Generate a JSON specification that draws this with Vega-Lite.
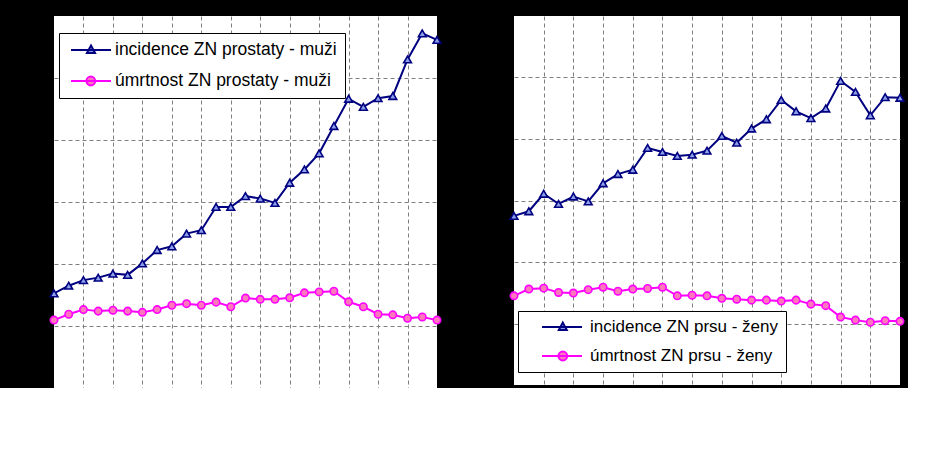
{
  "$schema": "https://vega.github.io/schema/vega-lite/v6.json",
  "background": "black",
  "padding": {"left": 46, "top": 16, "right": 0, "bottom": 0},
  "spacing": 77,
  "bounds": "flush",
  "config": {
    "view": {"fill": "white", "stroke": null},
    "font": "Liberation Sans",
    "axis": {"labels": false, "ticks": false, "domain": false, "title": null, "minExtent": 0, "maxExtent": 0, "grid": true, "gridColor": "#7f7f7f", "gridDash": [4, 3], "gridWidth": 1}
  },
  "datasets": {
    "muzi": [
      {"rok": 1977, "inc": 30.5, "umr": 21.9}, {"rok": 1978, "inc": 33.0, "umr": 23.8},
      {"rok": 1979, "inc": 34.8, "umr": 25.3}, {"rok": 1980, "inc": 35.6, "umr": 24.8},
      {"rok": 1981, "inc": 36.9, "umr": 25.1}, {"rok": 1982, "inc": 36.5, "umr": 24.8},
      {"rok": 1983, "inc": 40.2, "umr": 24.4}, {"rok": 1984, "inc": 44.5, "umr": 25.3},
      {"rok": 1985, "inc": 45.7, "umr": 26.7}, {"rok": 1986, "inc": 49.8, "umr": 27.2},
      {"rok": 1987, "inc": 50.9, "umr": 26.7}, {"rok": 1988, "inc": 58.4, "umr": 27.7},
      {"rok": 1989, "inc": 58.4, "umr": 26.2}, {"rok": 1990, "inc": 61.9, "umr": 29.0},
      {"rok": 1991, "inc": 61.1, "umr": 28.6}, {"rok": 1992, "inc": 59.7, "umr": 28.6},
      {"rok": 1993, "inc": 66.2, "umr": 29.1}, {"rok": 1994, "inc": 70.5, "umr": 30.7},
      {"rok": 1995, "inc": 75.7, "umr": 31.0}, {"rok": 1996, "inc": 84.5, "umr": 31.2},
      {"rok": 1997, "inc": 93.3, "umr": 27.8}, {"rok": 1998, "inc": 90.7, "umr": 26.2},
      {"rok": 1999, "inc": 93.5, "umr": 23.8}, {"rok": 2000, "inc": 94.2, "umr": 23.6},
      {"rok": 2001, "inc": 106.0, "umr": 22.5}, {"rok": 2002, "inc": 114.4, "umr": 22.9},
      {"rok": 2003, "inc": 112.3, "umr": 21.9}
    ],
    "zeny": [
      {"rok": 1977, "inc": 55.0, "umr": 29.0}, {"rok": 1978, "inc": 56.5, "umr": 31.2},
      {"rok": 1979, "inc": 62.2, "umr": 31.5}, {"rok": 1980, "inc": 58.9, "umr": 30.1},
      {"rok": 1981, "inc": 61.3, "umr": 29.9}, {"rok": 1982, "inc": 59.7, "umr": 31.0},
      {"rok": 1983, "inc": 65.6, "umr": 31.8}, {"rok": 1984, "inc": 68.6, "umr": 30.5},
      {"rok": 1985, "inc": 70.0, "umr": 31.2}, {"rok": 1986, "inc": 77.1, "umr": 31.4},
      {"rok": 1987, "inc": 75.8, "umr": 31.8}, {"rok": 1988, "inc": 74.5, "umr": 29.0},
      {"rok": 1989, "inc": 74.9, "umr": 29.2}, {"rok": 1990, "inc": 76.2, "umr": 29.0},
      {"rok": 1991, "inc": 81.0, "umr": 28.2}, {"rok": 1992, "inc": 78.8, "umr": 27.9},
      {"rok": 1993, "inc": 83.4, "umr": 27.6}, {"rok": 1994, "inc": 86.4, "umr": 27.6},
      {"rok": 1995, "inc": 92.7, "umr": 27.3}, {"rok": 1996, "inc": 89.0, "umr": 27.6},
      {"rok": 1997, "inc": 86.8, "umr": 26.3}, {"rok": 1998, "inc": 89.9, "umr": 25.8},
      {"rok": 1999, "inc": 98.9, "umr": 22.1}, {"rok": 2000, "inc": 95.3, "umr": 21.1},
      {"rok": 2001, "inc": 87.7, "umr": 20.4}, {"rok": 2002, "inc": 93.6, "umr": 20.9},
      {"rok": 2003, "inc": 93.4, "umr": 20.7}
    ]
  },
  "hconcat": [
    {
      "width": 383,
      "height": 372,
      "data": {"name": "muzi"},
      "transform": [
        {"fold": ["inc", "umr"], "as": ["key", "hodnota"]},
        {"lookup": "key", "from": {"data": {"values": [
          {"key": "inc", "serie": "incidence ZN prostaty - muži"},
          {"key": "umr", "serie": "úmrtnost ZN prostaty - muži"}
        ]}, "key": "key", "fields": ["serie"]}}
      ],
      "encoding": {
        "x": {"field": "rok", "type": "quantitative", "scale": {"domain": [1977, 2003], "nice": false, "zero": false}, "axis": {"values": [1979, 1981, 1983, 1985, 1987, 1989, 1991, 1993, 1995, 1997, 1999, 2001]}},
        "y": {"field": "hodnota", "type": "quantitative", "scale": {"domain": [0, 120], "nice": false}, "axis": {"values": [20, 40, 60, 80, 100]}},
        "stroke": {
          "field": "serie", "type": "nominal",
          "scale": {"domain": ["incidence ZN prostaty - muži", "úmrtnost ZN prostaty - muži"], "range": ["#000080", "#FF00FF"]},
          "legend": {
            "orient": "none", "legendX": 5, "legendY": 17, "title": null,
            "fillColor": "white", "strokeColor": "black", "padding": 8,
            "labelFontSize": 17.5, "labelFont": "Liberation Sans", "labelColor": "black", "labelLimit": 400,
            "symbolSize": 256, "symbolStrokeWidth": 2, "symbolOpacity": 1, "rowPadding": 13, "labelOffset": 30,
            "encode": {"legend": {"strokeWidth": {"value": 2}}}
          }
        }
      },
      "layer": [
        {"mark": {"type": "line", "strokeWidth": 2, "clip": false}, "encoding": {"detail": {"field": "serie"}}},
        {
          "transform": [{"filter": "datum.key === 'inc'"}],
          "mark": {"type": "point", "shape": "triangle-up", "filled": true, "fill": "#8da0ea", "strokeWidth": 1.6, "opacity": 1, "size": 60, "clip": false}
        },
        {
          "transform": [{"filter": "datum.key === 'umr'"}],
          "mark": {"type": "point", "shape": "circle", "filled": true, "fill": "#ff78bc", "strokeWidth": 1.6, "opacity": 1, "size": 55, "clip": false}
        },
        {
          "transform": [{"filter": "datum.rok < 0"}],
          "mark": {"type": "point", "filled": true, "opacity": 1, "strokeWidth": 1.6},
          "encoding": {
            "shape": {"field": "serie", "type": "nominal", "scale": {"domain": ["incidence ZN prostaty - muži", "úmrtnost ZN prostaty - muži"], "range": ["M-0.625,0H4.375M1.875,-0.55L2.38,0.38H1.37Z", "M2.4,0A0.55,0.55 0 1,1 1.3,0A0.55,0.55 0 1,1 2.4,0ZM-0.625,0H4.375"]}},
            "fill": {"field": "serie", "type": "nominal", "scale": {"domain": ["incidence ZN prostaty - muži", "úmrtnost ZN prostaty - muži"], "range": ["#8da0ea", "#ff78bc"]}}
          }
        }
      ]
    },
    {
      "width": 386,
      "height": 369,
      "data": {"name": "zeny"},
      "transform": [
        {"fold": ["inc", "umr"], "as": ["key", "hodnota"]},
        {"lookup": "key", "from": {"data": {"values": [
          {"key": "inc", "serie": "incidence ZN prsu - ženy"},
          {"key": "umr", "serie": "úmrtnost ZN prsu - ženy"}
        ]}, "key": "key", "fields": ["serie"]}}
      ],
      "encoding": {
        "x": {"field": "rok", "type": "quantitative", "scale": {"domain": [1977, 2003], "nice": false, "zero": false}, "axis": {"values": [1979, 1981, 1983, 1985, 1987, 1989, 1991, 1993, 1995, 1997, 1999, 2001]}},
        "y": {"field": "hodnota", "type": "quantitative", "scale": {"domain": [0, 120], "nice": false}, "axis": {"values": [20, 40, 60, 80, 100]}},
        "stroke": {
          "field": "serie", "type": "nominal",
          "scale": {"domain": ["incidence ZN prsu - ženy", "úmrtnost ZN prsu - ženy"], "range": ["#000080", "#FF00FF"]},
          "legend": {
            "orient": "none", "legendX": 4, "legendY": 295, "title": null,
            "fillColor": "white", "strokeColor": "black", "padding": 7,
            "labelFontSize": 17, "labelFont": "Liberation Sans", "labelColor": "black", "labelLimit": 400,
            "symbolSize": 256, "symbolStrokeWidth": 2, "symbolOpacity": 1, "rowPadding": 12, "labelOffset": 47,
            "encode": {"legend": {"strokeWidth": {"value": 2}}}
          }
        }
      },
      "layer": [
        {"mark": {"type": "line", "strokeWidth": 2, "clip": false}, "encoding": {"detail": {"field": "serie"}}},
        {
          "transform": [{"filter": "datum.key === 'inc'"}],
          "mark": {"type": "point", "shape": "triangle-up", "filled": true, "fill": "#8da0ea", "strokeWidth": 1.6, "opacity": 1, "size": 60, "clip": false}
        },
        {
          "transform": [{"filter": "datum.key === 'umr'"}],
          "mark": {"type": "point", "shape": "circle", "filled": true, "fill": "#ff78bc", "strokeWidth": 1.6, "opacity": 1, "size": 55, "clip": false}
        },
        {
          "transform": [{"filter": "datum.rok < 0"}],
          "mark": {"type": "point", "filled": true, "opacity": 1, "strokeWidth": 1.6},
          "encoding": {
            "shape": {"field": "serie", "type": "nominal", "scale": {"domain": ["incidence ZN prsu - ženy", "úmrtnost ZN prsu - ženy"], "range": ["M1,0H6M3.6,-0.55L4.1,0.38H3.1Z", "M4.15,0A0.55,0.55 0 1,1 3.05,0A0.55,0.55 0 1,1 4.15,0ZM1,0H6"]}},
            "fill": {"field": "serie", "type": "nominal", "scale": {"domain": ["incidence ZN prsu - ženy", "úmrtnost ZN prsu - ženy"], "range": ["#8da0ea", "#ff78bc"]}}
          }
        }
      ]
    }
  ],
  "resolve": {"scale": {"stroke": "independent", "shape": "independent", "fill": "independent"}}
}
